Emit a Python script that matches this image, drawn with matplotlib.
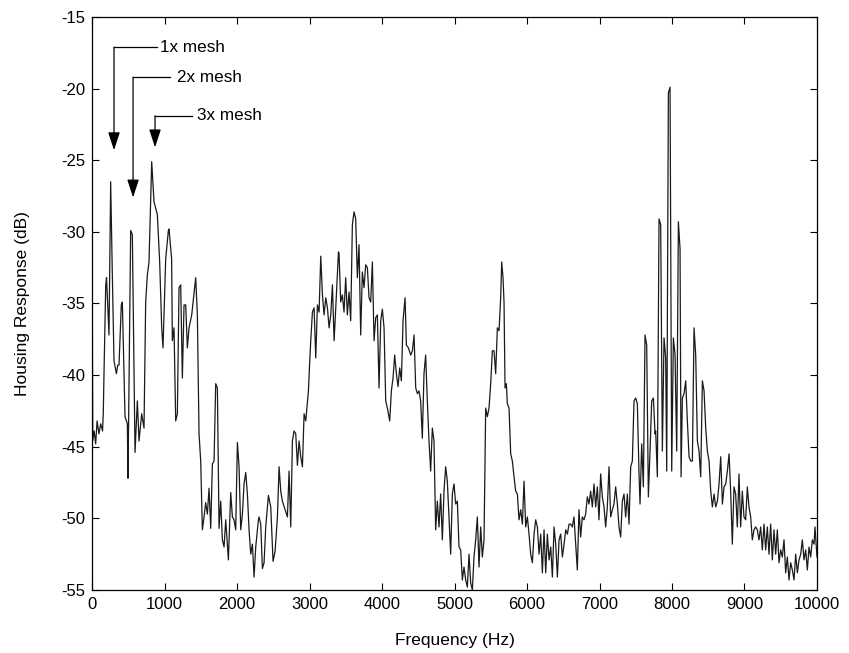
import matplotlib
matplotlib.use("Agg")
import matplotlib.pyplot as plt
import numpy as np

plt.rcParams['font.family'] = ['Liberation Sans', 'DejaVu Sans']
plt.rcParams['axes.unicode_minus'] = False

# housing response spectrum (Hz, dB)
freq_low = [0, 10, 30, 50, 70, 95, 120, 145, 155, 165, 189, 200, 234, 257, 280,
            303, 336, 355, 372, 404, 418, 455, 487, 496, 533, 556, 593, 625, 648,
            685, 717, 740, 763, 786, 823, 855, 901, 933, 961, 979, 1016, 1053,
            1062, 1098, 1108, 1131, 1154, 1177, 1200, 1223, 1246, 1269, 1292,
            1315, 1338, 1375, 1430, 1453, 1476, 1499, 1522, 1545, 1568, 1591,
            1614, 1637, 1660, 1683, 1706, 1729, 1752, 1775, 1798, 1821, 1844,
            1881, 1913, 1936, 1959, 1982, 2005, 2028, 2051, 2074, 2097, 2120,
            2143, 2166, 2189, 2212, 2235, 2258, 2295]
db_low = [-29.5, -44.6, -43.9, -44.8, -43.2, -44.1, -43.4, -43.9, -42.7, -39.9,
          -33.7, -33.2, -37.2, -26.5, -33.0, -39.0, -39.9, -39.3, -39.3, -35.1,
          -34.9, -42.9, -43.4, -47.2, -29.9, -30.2, -45.4, -41.8, -44.6, -42.7,
          -43.7, -34.9, -33.0, -32.1, -25.1, -27.9, -28.8, -32.1, -36.7, -38.1,
          -31.9, -29.9, -29.8, -31.9, -37.6, -36.7, -43.2, -42.7, -33.9, -33.7,
          -40.2, -35.1, -35.1, -38.1, -36.7, -35.8, -33.2, -35.8, -44.1, -46.0,
          -50.8, -49.9, -48.9, -49.7, -47.9, -50.7, -46.2, -46.0, -40.6, -40.9,
          -50.7, -48.8, -51.5, -52.0, -50.1, -52.9, -48.2, -49.9, -50.1, -50.8,
          -44.7, -46.4, -50.8, -49.7, -47.6, -46.8, -48.3, -50.8, -52.5, -51.8,
          -54.1, -52.0, -50.1]

freq_mid = [2304, 2327, 2350, 2373, 2396, 2433, 2465, 2497, 2525, 2557, 2580,
            2603, 2626, 2663, 2695, 2718, 2741, 2764, 2787, 2810, 2833, 2856,
            2879, 2902, 2925, 2948, 2985, 3003, 3017, 3040, 3063, 3086, 3109,
            3132, 3155, 3178, 3201, 3224, 3247, 3270, 3293, 3316, 3339, 3362,
            3399, 3407, 3430, 3453, 3476, 3499, 3522, 3545, 3568, 3591, 3614,
            3637, 3660, 3683, 3706, 3729, 3752, 3775, 3798, 3821, 3844, 3867,
            3890, 3913, 3936, 3959, 3982, 4005, 4028, 4051, 4074, 4106, 4129,
            4152, 4175, 4198, 4221, 4244, 4267, 4290, 4318, 4336, 4364, 4396,
            4419, 4442, 4465, 4488, 4510, 4533, 4556, 4579, 4602, 4625, 4648,
            4671, 4694, 4717, 4740, 4763, 4786, 4809, 4832, 4855, 4878, 4901,
            4924, 4947, 4970, 4993, 5016, 5039, 5062, 5085, 5108, 5131, 5154,
            5177, 5200, 5223, 5246, 5269, 5292, 5315, 5338, 5361, 5384, 5407,
            5430, 5453, 5476, 5499, 5522, 5545, 5568]
db_mid = [-49.9, -50.4, -53.5, -53.1, -50.6, -48.4, -49.2, -53.0, -52.3, -49.9,
          -46.4, -48.1, -48.8, -49.4, -49.9, -46.7, -50.6, -44.6, -43.9, -44.1,
          -46.3, -44.6, -45.7, -46.4, -42.7, -43.2, -41.1, -39.0, -37.6, -35.6,
          -35.3, -38.8, -35.1, -35.6, -31.7, -34.4, -35.8, -34.6, -35.3, -36.7,
          -35.8, -33.7, -37.6, -35.3, -31.4, -31.5, -34.9, -34.4, -35.6, -33.2,
          -35.8, -34.2, -36.2, -29.5, -28.6, -29.1, -33.2, -30.9, -37.2, -32.8,
          -33.9, -32.3, -32.5, -34.6, -34.9, -32.1, -37.6, -36.0, -35.8, -40.9,
          -36.2, -35.4, -36.7, -41.8, -42.3, -43.2, -41.1, -40.2, -38.6, -39.9,
          -40.8, -39.5, -40.4, -36.2, -34.6, -37.9, -38.1, -38.6, -38.3, -37.2,
          -40.9, -41.3, -41.1, -41.8, -44.4, -39.9, -38.6, -41.8, -44.6, -46.7,
          -43.7, -44.6, -50.8, -48.8, -50.6, -48.3, -51.5, -48.1, -46.4, -47.4,
          -49.9, -52.5, -48.3, -47.6, -49.0, -48.8, -52.0, -52.2, -54.3, -53.4,
          -54.3, -54.8, -52.5, -54.5, -55.0, -52.7, -51.5, -49.9, -53.4, -50.6,
          -52.7, -51.5, -42.3, -42.9, -42.3, -40.6, -38.3, -38.3, -39.9]

freq_high = [5591, 5614, 5637, 5651, 5669, 5683, 5697, 5715, 5729, 5752, 5775,
             5798, 5821, 5844, 5867, 5890, 5913, 5936, 5959, 5982, 6005, 6028,
             6051, 6074, 6097, 6120, 6143, 6166, 6189, 6212, 6235, 6258, 6281,
             6304, 6327, 6350, 6373, 6396, 6419, 6442, 6465, 6488, 6511, 6534,
             6557, 6580, 6602, 6625, 6648, 6671, 6694, 6717, 6740, 6763, 6786,
             6809, 6832, 6855, 6878, 6901, 6924, 6947, 6970, 6993, 7016, 7039,
             7062, 7085, 7108, 7131, 7154, 7177, 7200, 7223, 7246, 7269, 7292,
             7315, 7338, 7361, 7384, 7407, 7430, 7453, 7476, 7499, 7522, 7545,
             7559, 7582, 7605, 7628, 7651, 7674, 7697, 7720, 7743, 7766, 7775,
             7798, 7821, 7844, 7867, 7890, 7913, 7927, 7950, 7973, 7996, 8019,
             8042, 8065, 8088, 8111, 8125, 8143, 8166, 8189, 8212, 8235, 8258,
             8281, 8304, 8327, 8350, 8373, 8396, 8419, 8442, 8465, 8488, 8511,
             8534, 8557, 8580, 8603, 8626, 8649, 8672, 8695, 8718, 8741, 8764,
             8787]
db_high = [-36.7, -36.9, -34.6, -32.1, -33.2, -34.9, -40.9, -40.6, -42.0, -42.3,
           -45.5, -46.0, -47.1, -48.1, -48.3, -50.1, -49.4, -50.4, -47.4, -50.6,
           -49.9, -51.1, -52.5, -53.1, -51.1, -50.1, -50.6, -52.5, -51.1, -53.8,
           -50.8, -53.8, -51.1, -52.9, -52.0, -54.1, -50.6, -51.8, -54.1, -51.5,
           -51.1, -52.7, -51.8, -50.8, -51.1, -50.4, -50.4, -50.6, -49.9, -51.8,
           -53.6, -49.4, -51.3, -49.9, -50.1, -49.7, -48.5, -49.0, -48.1, -49.2,
           -47.6, -49.2, -47.8, -50.1, -46.9, -48.5, -49.2, -50.6, -49.2, -46.4,
           -49.9, -49.4, -49.0, -47.8, -49.0, -50.6, -51.3, -48.8, -48.3, -49.9,
           -48.3, -50.4, -46.4, -46.0, -41.8, -41.6, -42.0, -46.9, -49.0, -44.8,
           -47.8, -37.2, -37.9, -48.5, -45.3, -41.8, -41.6, -44.1, -43.9, -47.1,
           -29.1, -29.5, -45.3, -37.4, -38.8, -46.7, -20.3, -19.9, -46.7, -37.4,
           -38.6, -45.3, -29.3, -31.2, -47.1, -41.6, -41.3, -40.4, -43.2, -45.7,
           -46.0, -46.0, -36.7, -38.6, -44.6, -45.3, -47.1, -40.4, -41.1, -43.7,
           -45.3, -46.0, -48.1, -49.2, -48.3, -49.2, -48.8, -47.6, -45.7, -49.0,
           -47.8, -47.6, -46.7, -45.5]

freq_tail = [8809, 8832, 8855, 8878, 8901, 8924, 8947, 8970, 8993, 9016, 9039,
             9062, 9085, 9108, 9131, 9154, 9177, 9200, 9223, 9246, 9269, 9292,
             9315, 9338, 9361, 9384, 9407, 9430, 9453, 9476, 9499, 9522, 9545,
             9568, 9591, 9614, 9637, 9660, 9683, 9706, 9729, 9752, 9775, 9798,
             9821, 9844, 9867, 9890, 9913, 9936, 9959, 9972, 10000]
db_tail = [-48.1, -51.8, -47.8, -48.3, -50.6, -46.9, -50.6, -48.1, -49.9, -50.1,
           -47.8, -49.2, -49.9, -51.5, -50.8, -50.6, -50.8, -51.5, -50.6, -52.2,
           -50.4, -52.2, -50.6, -52.5, -50.4, -52.9, -50.8, -52.5, -50.8, -53.1,
           -52.2, -52.7, -51.5, -53.8, -52.7, -54.3, -53.1, -53.6, -54.3, -52.5,
           -53.8, -52.9, -52.5, -51.5, -52.9, -52.2, -53.6, -52.0, -52.7, -51.5,
           -51.8, -50.6, -52.7]

# mesh harmonic callouts: label, arrow x (Hz), elbow y (dB), tip y (dB), label x (Hz)
mesh_labels = ['1x mesh', '2x mesh', '3x mesh']
mesh_x = [303, 566, 869]
mesh_elbow = [-17.1, -19.2, -21.9]
mesh_tip = [-24.3, -27.6, -24.1]
mesh_line_end = [897, 1076, 1379]
mesh_text_x = [938, 1172, 1448]

freq = np.array(freq_low + freq_mid + freq_high + freq_tail)
db = np.array(db_low + db_mid + db_high + db_tail)

fig = plt.figure(figsize=(8.49, 6.53), dpi=100)
ax = fig.add_axes([0.1084, 0.0965, 0.8539, 0.8775])

ax.plot(freq, db, color='#1a1a1a', lw=0.9)

for lab, x, ye, yt, xe, xt in zip(mesh_labels, mesh_x, mesh_elbow, mesh_tip,
                                  mesh_line_end, mesh_text_x):
    ax.plot([xe, x], [ye, ye], color='black', lw=0.9)
    ax.annotate('', xy=(x, yt), xytext=(x, ye),
                arrowprops=dict(arrowstyle='-|>,head_length=0.55,head_width=0.18',
                                mutation_scale=20, color='black', lw=0.9,
                                shrinkA=0, shrinkB=0))
    ax.text(xt, ye, lab, fontsize=12.3, va='center', ha='left')

ax.set_xlim(0, 10000)
ax.set_ylim(-55, -15)
ax.set_xticks(np.arange(0, 10001, 1000))
ax.set_yticks(np.arange(-55, -14, 5))
ax.tick_params(direction='in', top=True, right=True, length=5, labelsize=12,
               width=0.8, pad=5)
for s in ax.spines.values():
    s.set_linewidth(0.9)
ax.set_xlabel('Frequency (Hz)', fontsize=12.5, labelpad=15)
ax.set_ylabel('Housing Response (dB)', fontsize=12.5, labelpad=22)

fig.savefig('out.png', dpi=100)
